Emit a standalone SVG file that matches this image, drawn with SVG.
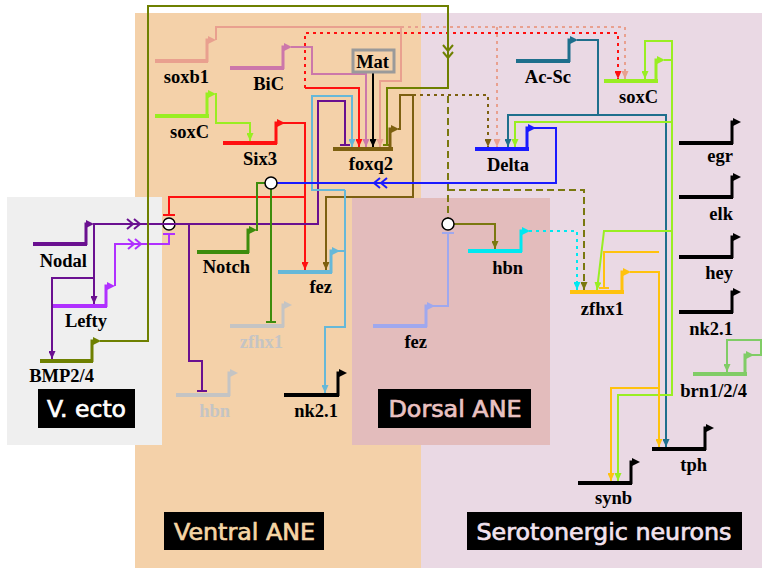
<svg xmlns="http://www.w3.org/2000/svg" width="762" height="568" viewBox="0 0 762 568">
<style>
.bar{fill:none;stroke-width:4}
.pr{fill:none;stroke-width:3}
.ah{stroke:none}
.lbl{font-family:"Liberation Serif","Times New Roman",serif;font-weight:bold;font-size:18.5px;text-anchor:end;fill:#000;stroke:none}
.gray{fill:#c4c4c4}
.c{fill:none;stroke-width:2}
.dot{stroke-dasharray:3 4}
.dash{stroke-dasharray:7 4}
.ttl{font-family:"DejaVu Sans","Noto Sans",sans-serif;font-size:23px;text-anchor:middle;stroke-width:0.7}
.jn{fill:#fff;stroke:#000;stroke-width:1.5}
</style>
<defs>
<marker id="a-salmon" viewBox="0 0 8 7" refX="8" refY="3.5" markerWidth="8" markerHeight="7" markerUnits="userSpaceOnUse" orient="auto"><path d="M0 0L8 3.5L0 7Z" fill="#e9a08f"/></marker>
<marker id="a-red" viewBox="0 0 8 7" refX="8" refY="3.5" markerWidth="8" markerHeight="7" markerUnits="userSpaceOnUse" orient="auto"><path d="M0 0L8 3.5L0 7Z" fill="#ff1010"/></marker>
<marker id="a-pink" viewBox="0 0 8 7" refX="8" refY="3.5" markerWidth="8" markerHeight="7" markerUnits="userSpaceOnUse" orient="auto"><path d="M0 0L8 3.5L0 7Z" fill="#cc77aa"/></marker>
<marker id="a-black" viewBox="0 0 8 7" refX="8" refY="3.5" markerWidth="8" markerHeight="7" markerUnits="userSpaceOnUse" orient="auto"><path d="M0 0L8 3.5L0 7Z" fill="#000"/></marker>
<marker id="a-lime" viewBox="0 0 8 7" refX="8" refY="3.5" markerWidth="8" markerHeight="7" markerUnits="userSpaceOnUse" orient="auto"><path d="M0 0L8 3.5L0 7Z" fill="#99ee22"/></marker>
<marker id="a-purple" viewBox="0 0 8 7" refX="8" refY="3.5" markerWidth="8" markerHeight="7" markerUnits="userSpaceOnUse" orient="auto"><path d="M0 0L8 3.5L0 7Z" fill="#6a1090"/></marker>
<marker id="a-brown" viewBox="0 0 8 7" refX="8" refY="3.5" markerWidth="8" markerHeight="7" markerUnits="userSpaceOnUse" orient="auto"><path d="M0 0L8 3.5L0 7Z" fill="#7d6010"/></marker>
<marker id="a-olive" viewBox="0 0 8 7" refX="8" refY="3.5" markerWidth="8" markerHeight="7" markerUnits="userSpaceOnUse" orient="auto"><path d="M0 0L8 3.5L0 7Z" fill="#7a7810"/></marker>
<marker id="a-cyan" viewBox="0 0 8 7" refX="8" refY="3.5" markerWidth="8" markerHeight="7" markerUnits="userSpaceOnUse" orient="auto"><path d="M0 0L8 3.5L0 7Z" fill="#66b8d8"/></marker>
<marker id="a-aqua" viewBox="0 0 8 7" refX="8" refY="3.5" markerWidth="8" markerHeight="7" markerUnits="userSpaceOnUse" orient="auto"><path d="M0 0L8 3.5L0 7Z" fill="#00e8f0"/></marker>
<marker id="a-teal" viewBox="0 0 8 7" refX="8" refY="3.5" markerWidth="8" markerHeight="7" markerUnits="userSpaceOnUse" orient="auto"><path d="M0 0L8 3.5L0 7Z" fill="#1e6f8c"/></marker>
<marker id="a-gold" viewBox="0 0 8 7" refX="8" refY="3.5" markerWidth="8" markerHeight="7" markerUnits="userSpaceOnUse" orient="auto"><path d="M0 0L8 3.5L0 7Z" fill="#ffc20e"/></marker>
<marker id="a-brn" viewBox="0 0 8 7" refX="8" refY="3.5" markerWidth="8" markerHeight="7" markerUnits="userSpaceOnUse" orient="auto"><path d="M0 0L8 3.5L0 7Z" fill="#80cc66"/></marker>
<marker id="t-red" viewBox="0 0 2 12" refX="2" refY="6" markerWidth="2" markerHeight="12" markerUnits="userSpaceOnUse" orient="auto"><rect width="2" height="12" fill="#ff1010"/></marker>
<marker id="t-purple" viewBox="0 0 2 10" refX="2" refY="5" markerWidth="2" markerHeight="10" markerUnits="userSpaceOnUse" orient="auto"><rect width="2" height="10" fill="#6a1090"/></marker>
<marker id="t-violet" viewBox="0 0 2 12" refX="2" refY="6" markerWidth="2" markerHeight="12" markerUnits="userSpaceOnUse" orient="auto"><rect width="2" height="12" fill="#b030ff"/></marker>
<marker id="t-olive" viewBox="0 0 2 8" refX="2" refY="4" markerWidth="2" markerHeight="8" markerUnits="userSpaceOnUse" orient="auto"><rect width="2" height="8" fill="#6e8000"/></marker>
<marker id="t-green" viewBox="0 0 2 10" refX="2" refY="5" markerWidth="2" markerHeight="10" markerUnits="userSpaceOnUse" orient="auto"><rect width="2" height="10" fill="#3d8c0c"/></marker>
<marker id="t-lav" viewBox="0 0 2 12" refX="2" refY="6" markerWidth="2" markerHeight="12" markerUnits="userSpaceOnUse" orient="auto"><rect width="2" height="12" fill="#9fa8ee"/></marker>
<marker id="t-gold" viewBox="0 0 2 10" refX="2" refY="5" markerWidth="2" markerHeight="10" markerUnits="userSpaceOnUse" orient="auto"><rect width="2" height="10" fill="#ffc20e"/></marker>
</defs>

<g id="regions">
<rect x="0" y="0" width="762" height="568" fill="#fff"/>
<rect x="135" y="13" width="286" height="555" fill="#f4d1a9"/>
<rect x="421" y="13" width="341" height="555" fill="#ead9e4"/>
<rect x="7" y="197" width="155" height="248" fill="#efefef"/>
<rect x="352" y="198" width="198" height="247" fill="#e3bcbc"/>
</g>

<g id="titles">
<g id="t-vecto"><rect x="38" y="389" width="97" height="39" fill="#000"/><text class="ttl" x="86.5" y="417" fill="#fff" stroke="#fff" textLength="79" lengthAdjust="spacingAndGlyphs">V. ecto</text></g>
<g id="t-dorsal"><rect x="378" y="389" width="153" height="39" fill="#000"/><text class="ttl" x="455" y="417" fill="#eac2c2" stroke="#eac2c2" textLength="133" lengthAdjust="spacingAndGlyphs">Dorsal ANE</text></g>
<g id="t-ventral"><rect x="164" y="512" width="160" height="38" fill="#000"/><text class="ttl" x="244.5" y="540" fill="#f5d5a5" stroke="#f5d5a5" textLength="141" lengthAdjust="spacingAndGlyphs">Ventral ANE</text></g>
<g id="t-sero"><rect x="467" y="512" width="275" height="38" fill="#000"/><text class="ttl" x="604" y="540" fill="#f2e2ee" stroke="#f2e2ee" textLength="255" lengthAdjust="spacingAndGlyphs">Serotonergic neurons</text></g>
</g>

<g id="connectors">
<path class="c" stroke="#e9a08f" d="M216 40V27H401V81H380V147" marker-end="url(#a-salmon)"/>
<path class="c dot" stroke="#e9a08f" d="M401 27H625V79" marker-end="url(#a-salmon)"/>
<path class="c dot" stroke="#e9a08f" d="M497 27V147" marker-end="url(#a-salmon)"/>
<path class="c dot" stroke="#ff1010" d="M305 88V33H618V79" marker-end="url(#a-red)"/>
<path class="c" stroke="#cc77aa" d="M291 47H312V74H366V147" marker-end="url(#a-pink)"/>
<path class="c" stroke="#000" d="M373 72V147" marker-end="url(#a-black)"/>
<path class="c" stroke="#99ee22" d="M215 94H216V123H250V141" marker-end="url(#a-lime)"/>
<path class="c" stroke="#ff1010" d="M283 123H305V270" marker-end="url(#a-red)"/>
<path class="c" stroke="#ff1010" d="M305 88H359V147" marker-end="url(#a-red)"/>
<path class="c" stroke="#ff1010" d="M305 197H169V216" marker-end="url(#t-red)"/>
<path class="c" stroke="#b030ff" d="M115 286V244H169V233" marker-end="url(#t-violet)"/>
<path class="c" stroke="#b030ff" d="M128 239L134 244L128 249M135 239L141 244L135 249"/>
<circle class="jn" cx="169" cy="224" r="6"/>
<path class="c" stroke="#6a1090" d="M93 224H318V101H345V146" marker-end="url(#t-purple)"/>
<path class="c" stroke="#6a1090" d="M94 224V304" marker-end="url(#a-purple)"/>
<path class="c" stroke="#6a1090" d="M94 278H52V359" marker-end="url(#a-purple)"/>
<path class="c" stroke="#6a1090" d="M189 224V361H202V392" marker-end="url(#t-purple)"/>
<path class="c" stroke="#6a1090" d="M127 219L133 224L127 229M134 219L140 224L134 229"/>
<path class="c" stroke="#6e8000" d="M100 341H148V6H448V88H387V146" marker-end="url(#t-olive)"/>
<path class="c" stroke="#6e8000" d="M443 45L448 51L453 45M443 52L448 58L453 52"/>
<path class="c" stroke="#7d6010" d="M398 129H400V95H413V197H326V270" marker-end="url(#a-brown)"/>
<path class="c dot" stroke="#7d6010" d="M413 95H488V147" marker-end="url(#a-brown)"/>
<path class="c dash" stroke="#7a7810" d="M448 96V218"/>
<path class="c dash" stroke="#7a7810" d="M448 190H584V290" marker-end="url(#a-olive)"/>
<path class="c" stroke="#7a7810" d="M454 224H495V249" marker-end="url(#a-olive)"/>
<path class="c" stroke="#9fa8ee" d="M433 306H448V232" marker-end="url(#t-lav)"/>
<circle class="jn" cx="448" cy="224" r="6"/>
<path class="c dot" stroke="#00e8f0" d="M529 231H577V290" marker-end="url(#a-aqua)"/>
<path class="c" stroke="#66b8d8" d="M338 251H345"/>
<path class="c" stroke="#66b8d8" d="M345 190V327H325V393" marker-end="url(#a-cyan)"/>
<path class="c" stroke="#66b8d8" d="M345 190H312V96H352V147" marker-end="url(#a-cyan)"/>
<path class="c" stroke="#3d8c0c" d="M256 230H257V183H265"/>
<path class="c" stroke="#3d8c0c" d="M271 189V323" marker-end="url(#t-green)"/>
<path class="c" stroke="#1a1aff" d="M534 128H556V183H277"/>
<path class="c" stroke="#1a1aff" d="M380 178L374 183L380 188M387 178L381 183L387 188"/>
<circle class="jn" cx="271" cy="183" r="6"/>
<path class="c" stroke="#1e6f8c" d="M577 40H598V115H508V147" marker-end="url(#a-teal)"/>
<path class="c" stroke="#1e6f8c" d="M598 115H666V447" marker-end="url(#a-teal)"/>
<path class="c" stroke="#99ee22" d="M664 60H672V41H645V79" marker-end="url(#a-lime)"/>
<path class="c" stroke="#99ee22" d="M672 60V395H618V481" marker-end="url(#a-lime)"/>
<path class="c" stroke="#99ee22" d="M672 122H515V147" marker-end="url(#a-lime)"/>
<path class="c" stroke="#99ee22" d="M672 231H604L597 290" marker-end="url(#a-lime)"/>
<path class="c" stroke="#ffc20e" d="M630 272H659V447" marker-end="url(#a-gold)"/>
<path class="c" stroke="#ffc20e" d="M659 252H604V289" marker-end="url(#t-gold)"/>
<path class="c" stroke="#ffc20e" d="M659 388H611V481" marker-end="url(#a-gold)"/>
<path class="c" stroke="#80cc66" d="M752 355H761V340H727V372" marker-end="url(#a-brn)"/>
</g>

<g id="n-soxb1" stroke="#e9a08f" fill="#e9a08f"><path class="bar" d="M155 61H208"/><path class="pr" d="M207 62V40H209"/><path class="ah" d="M208 36L216 40L208 44Z"/><text class="lbl" x="209" y="83">soxb1</text></g>
<g id="n-BiC" stroke="#cc77aa" fill="#cc77aa"><path class="bar" d="M230 68H284"/><path class="pr" d="M283 69V47H285"/><path class="ah" d="M284 43L292 47L284 51Z"/><text class="lbl" x="284" y="90">BiC</text></g>
<g id="n-Mat"><rect x="353" y="50" width="41" height="22" fill="none" stroke="#9a9a9a" stroke-width="3"/><text class="lbl" x="389" y="68">Mat</text></g>
<g id="n-soxC-l" stroke="#99ee22" fill="#99ee22"><path class="bar" d="M155 116H209"/><path class="pr" d="M207 117V94H209"/><path class="ah" d="M208 90L216 94L208 98Z"/><text class="lbl" x="209" y="138">soxC</text></g>
<g id="n-Six3" stroke="#ff1010" fill="#ff1010"><path class="bar" d="M223 143H277"/><path class="pr" d="M276 144V123H278"/><path class="ah" d="M277 119L285 123L277 127Z"/><text class="lbl" x="277" y="165">Six3</text></g>
<g id="n-foxq2" stroke="#7d6010" fill="#7d6010"><path class="bar" d="M333 149H393"/><path class="pr" d="M390 150V129H392"/><path class="ah" d="M391 125L399 129L391 133Z"/><text class="lbl" x="393" y="170">foxq2</text></g>
<g id="n-AcSc" stroke="#1e6f8c" fill="#1e6f8c"><path class="bar" d="M516 61H570"/><path class="pr" d="M569 62V40H571"/><path class="ah" d="M570 36L578 40L570 44Z"/><text class="lbl" x="571" y="83">Ac-Sc</text></g>
<g id="n-soxC-r" stroke="#99ee22" fill="#99ee22"><path class="bar" d="M604 81H658"/><path class="pr" d="M656 82V60H658"/><path class="ah" d="M657 56L665 60L657 64Z"/><text class="lbl" x="658" y="103">soxC</text></g>
<g id="n-Delta" stroke="#1a1aff" fill="#1a1aff"><path class="bar" d="M475 149H529"/><path class="pr" d="M527 150V128H529"/><path class="ah" d="M528 124L536 128L528 132Z"/><text class="lbl" x="529" y="171">Delta</text></g>
<g id="n-Notch" stroke="#3d8c0c" fill="#3d8c0c"><path class="bar" d="M197 252H249"/><path class="pr" d="M248 253V230H250"/><path class="ah" d="M249 226L257 230L249 234Z"/><text class="lbl" x="250" y="273">Notch</text></g>
<g id="n-fez-v" stroke="#66b8d8" fill="#66b8d8"><path class="bar" d="M278 272H332"/><path class="pr" d="M331 273V251H333"/><path class="ah" d="M332 247L340 251L332 255Z"/><text class="lbl" x="332" y="293">fez</text></g>
<g id="n-zfhx1-v" stroke="#c4c4c4" fill="#c4c4c4"><path class="bar" d="M230 326H284"/><path class="pr" d="M283 327V305H285"/><path class="ah" d="M284 301L292 305L284 309Z"/><text class="lbl gray" x="283" y="348">zfhx1</text></g>
<g id="n-hbn-v" stroke="#c4c4c4" fill="#c4c4c4"><path class="bar" d="M176 395H230"/><path class="pr" d="M229 396V373H231"/><path class="ah" d="M230 369L238 373L230 377Z"/><text class="lbl gray" x="230" y="417">hbn</text></g>
<g id="n-nk21-v" stroke="#000" fill="#000"><path class="bar" d="M284 395H339"/><path class="pr" d="M338 396V373H340"/><path class="ah" d="M339 369L347 373L339 377Z"/><text class="lbl" x="338" y="417">nk2.1</text></g>
<g id="n-Nodal" stroke="#6a1090" fill="#6a1090"><path class="bar" d="M33 244H87"/><path class="pr" d="M86 245V224H88"/><path class="ah" d="M86 220L94 224L86 228Z"/><text class="lbl" x="87" y="267">Nodal</text></g>
<g id="n-Lefty" stroke="#b030ff" fill="#b030ff"><path class="bar" d="M53 306H107"/><path class="pr" d="M106 307V286H108"/><path class="ah" d="M107 282L115 286L107 290Z"/><text class="lbl" x="107" y="327">Lefty</text></g>
<g id="n-BMP24" stroke="#6e8000" fill="#6e8000"><path class="bar" d="M40 361H93"/><path class="pr" d="M92 362V341H94"/><path class="ah" d="M93 337L101 341L93 345Z"/><text class="lbl" x="94" y="382">BMP2/4</text></g>
<g id="n-fez-d" stroke="#9fa8ee" fill="#9fa8ee"><path class="bar" d="M373 326H427"/><path class="pr" d="M426 327V306H428"/><path class="ah" d="M427 302L435 306L427 310Z"/><text class="lbl" x="427" y="348">fez</text></g>
<g id="n-hbn-d" stroke="#00e8f0" fill="#00e8f0"><path class="bar" d="M468 251H522"/><path class="pr" d="M521 252V231H523"/><path class="ah" d="M522 227L530 231L522 235Z"/><text class="lbl" x="523" y="274">hbn</text></g>
<g id="n-zfhx1-s" stroke="#ffc20e" fill="#ffc20e"><path class="bar" d="M570 292H624"/><path class="pr" d="M622 293V272H624"/><path class="ah" d="M623 268L631 272L623 276Z"/><text class="lbl" x="624" y="315">zfhx1</text></g>
<g id="n-egr" stroke="#000" fill="#000"><path class="bar" d="M679 143H733"/><path class="pr" d="M732 144V122H734"/><path class="ah" d="M733 118L741 122L733 126Z"/><text class="lbl" x="733" y="162">egr</text></g>
<g id="n-elk" stroke="#000" fill="#000"><path class="bar" d="M679 197H733"/><path class="pr" d="M732 198V177H734"/><path class="ah" d="M733 173L741 177L733 181Z"/><text class="lbl" x="733" y="220">elk</text></g>
<g id="n-hey" stroke="#000" fill="#000"><path class="bar" d="M679 257H733"/><path class="pr" d="M732 258V237H734"/><path class="ah" d="M733 233L741 237L733 241Z"/><text class="lbl" x="733" y="279">hey</text></g>
<g id="n-nk21-s" stroke="#000" fill="#000"><path class="bar" d="M679 312H733"/><path class="pr" d="M732 313V292H734"/><path class="ah" d="M733 288L741 292L733 296Z"/><text class="lbl" x="733" y="335">nk2.1</text></g>
<g id="n-brn" stroke="#80cc66" fill="#80cc66"><path class="bar" d="M693 374H747"/><path class="pr" d="M745 375V355H747"/><path class="ah" d="M746 351L754 355L746 359Z"/><text class="lbl" x="747" y="397">brn1/2/4</text></g>
<g id="n-tph" stroke="#000" fill="#000"><path class="bar" d="M652 449H706"/><path class="pr" d="M705 450V428H707"/><path class="ah" d="M706 424L714 428L706 432Z"/><text class="lbl" x="707" y="471">tph</text></g>
<g id="n-synb" stroke="#000" fill="#000"><path class="bar" d="M578 483H632"/><path class="pr" d="M631 484V462H633"/><path class="ah" d="M632 458L640 462L632 466Z"/><text class="lbl" x="632" y="504">synb</text></g>
</svg>
